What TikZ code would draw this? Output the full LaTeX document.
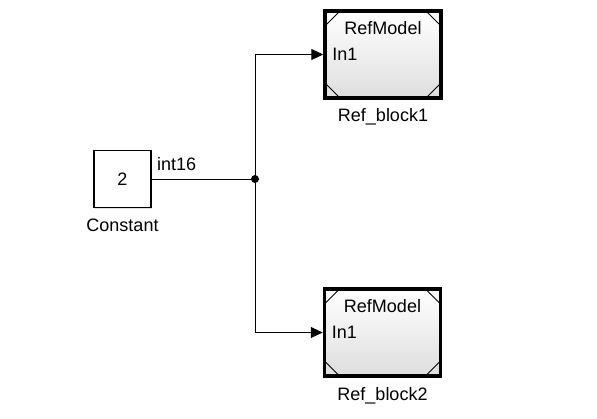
\documentclass[tikz,border=0pt]{standalone}
\usepackage{fontspec}
\setmainfont{Liberation Sans}
\usetikzlibrary{positioning,calc,arrows.meta,shadows}

\tikzset{
  px/.style={x=1pt,y=-1pt},
  refblock/.style={draw, line width=3.5pt, minimum width=116pt, minimum height=87pt,
    top color=white, bottom color=black!13,
    drop shadow={shadow xshift=1.5pt, shadow yshift=-1.5pt, opacity=0.25},
    path picture={
      \draw[line width=1pt]
        ([yshift=-15pt]path picture bounding box.north west) -- ([xshift=15pt]path picture bounding box.north west)
        ([yshift=-15pt]path picture bounding box.north east) -- ([xshift=-15pt]path picture bounding box.north east)
        ([yshift=15pt]path picture bounding box.south west) -- ([xshift=15pt]path picture bounding box.south west)
        ([yshift=15pt]path picture bounding box.south east) -- ([xshift=-15pt]path picture bounding box.south east);
    }},
  constblock/.style={draw, line width=1.1pt, minimum width=57pt, minimum height=57pt, fill=white,
    drop shadow={shadow xshift=1.2pt, shadow yshift=-1.2pt, opacity=0.25}},
  txt/.style={font=\fontsize{18}{21}\selectfont, inner sep=0pt},
  sig/.style={line width=1pt},
  sigarrow/.style={sig, -{Triangle[length=12pt,width=11pt]}}
}

\begin{document}
\begin{tikzpicture}[px]
    \useasboundingbox (0,0) rectangle (597,418);

    % Constant source
    \node[constblock] (const) at (122.5,179) {};
    \node[txt] at (const.center) {2};
    \node[txt, below=11pt of const] (constlbl) {Constant};
    \node[txt, anchor=south west] (dtype) at (157,171) {int16};

    % Referenced model blocks
    \node[refblock] (ref1) at (383,54.5) {};
    \node[txt, below=12pt of ref1.north] (rm1) {RefModel};
    \node[txt, anchor=west] (in1a) at ([xshift=9pt]ref1.west) {In1};
    \node[txt, below=9pt of ref1] (lbl1) {Ref\_block1};

    \node[refblock] (ref2) at (382.5,332.5) {};
    \node[txt, below=12pt of ref2.north] (rm2) {RefModel};
    \node[txt, anchor=west] (in1b) at ([xshift=9pt]ref2.west) {In1};
    \node[txt, below=9pt of ref2] (lbl2) {Ref\_block2};

    % Branch point
    \coordinate (br) at (255,179);
    \draw[sig] (const.east) -- (br);
    \fill (br) circle (4pt);
    \draw[sigarrow] (br) |- (ref1.west);
    \draw[sigarrow] (br) |- (ref2.west);
\end{tikzpicture}
\end{document}
